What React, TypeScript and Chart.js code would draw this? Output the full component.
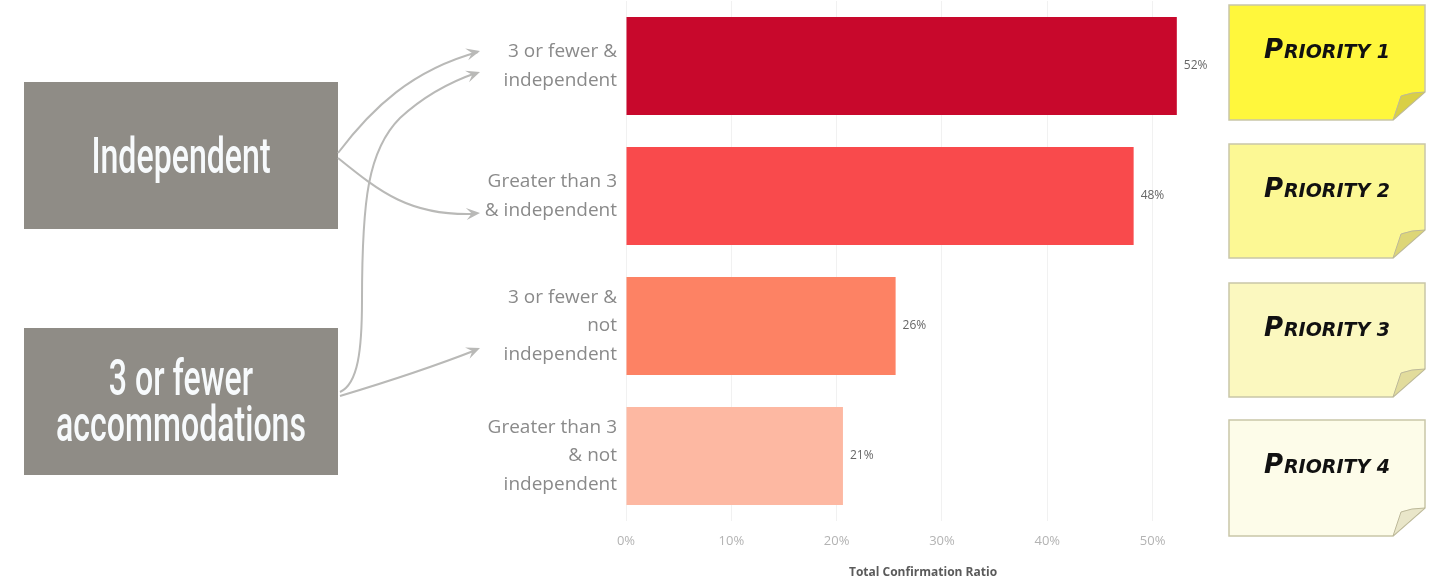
import React, { useEffect, useRef } from 'react';
import { Chart, registerables } from 'chart.js';

Chart.register(...registerables);

// ---------- data ----------
const categories: string[][] = [
  ['3 or fewer &', 'independent'],
  ['Greater than 3', '& independent'],
  ['3 or fewer &', 'not', 'independent'],
  ['Greater than 3', '& not', 'independent'],
];
const ratios: number[] = [52.3, 48.2, 25.6, 20.6];
const barColors: string[] = ['#c8082c', '#f94a4c', '#fd8264', '#fdb8a2'];
const xTickValues: number[] = [0, 10, 20, 30, 40, 50];
const axisTitle = 'Total Confirmation Ratio';
const groupBoxTexts: string[][] = [['Independent'], ['3 or fewer', 'accommodations']];
const priorityLabels: string[] = ['Priority 1', 'Priority 2', 'Priority 3', 'Priority 4'];
const noteFills: string[] = ['#fff73c', '#fcf894', '#fbf8bf', '#fdfce9'];
const flapFills: string[] = ['#d9cf45', '#ddd677', '#e2dc9c', '#e9e6c9'];

// ---------- decoration helpers ----------
function arrowHead(ctx: CanvasRenderingContext2D, fromX: number, fromY: number, x: number, y: number) {
  const a = Math.atan2(y - fromY, x - fromX);
  const len = 15;
  const spread = 0.42;
  ctx.beginPath();
  ctx.moveTo(x, y);
  ctx.lineTo(x - len * Math.cos(a - spread), y - len * Math.sin(a - spread));
  ctx.lineTo(x - len * 0.55 * Math.cos(a), y - len * 0.55 * Math.sin(a));
  ctx.lineTo(x - len * Math.cos(a + spread), y - len * Math.sin(a + spread));
  ctx.closePath();
  ctx.fill();
}

function drawNote(ctx: CanvasRenderingContext2D, x: number, y: number, w: number, h: number, fill: string, flap: string, label: string) {
  const r = x + w;
  const b = y + h;
  ctx.save();
  ctx.beginPath();
  ctx.moveTo(x, y);
  ctx.lineTo(r, y);
  ctx.lineTo(r, b - 28);
  ctx.lineTo(r - 32, b);
  ctx.lineTo(x, b);
  ctx.closePath();
  ctx.fillStyle = fill;
  ctx.fill();
  ctx.strokeStyle = '#c9c6a8';
  ctx.lineWidth = 1.5;
  ctx.stroke();
  // folded corner
  ctx.beginPath();
  ctx.moveTo(r, b - 28);
  ctx.quadraticCurveTo(r - 14, b - 28, r - 24, b - 24);
  ctx.quadraticCurveTo(r - 28, b - 12, r - 32, b);
  ctx.closePath();
  ctx.fillStyle = flap;
  ctx.fill();
  ctx.strokeStyle = '#bdb99a';
  ctx.lineWidth = 1;
  ctx.stroke();
  // text
  const first = label.charAt(0).toUpperCase();
  const rest = label.slice(1).toUpperCase();
  ctx.fillStyle = '#111';
  ctx.textBaseline = 'alphabetic';
  ctx.textAlign = 'left';
  const bigFont = 'italic bold 26px "DejaVu Sans"';
  const smallFont = 'italic bold 19px "DejaVu Sans"';
  ctx.font = bigFont;
  const w1 = ctx.measureText(first).width;
  ctx.font = smallFont;
  const w2 = ctx.measureText(rest).width;
  const total = w1 + 1 + w2;
  const sx = x + w / 2 - total / 2;
  const base = y + 53;
  ctx.font = bigFont;
  ctx.fillText(first, sx, base);
  ctx.font = smallFont;
  ctx.fillText(rest, sx + w1 + 1, base);
  ctx.restore();
}

const decorations = {
  id: 'decorations',
  beforeDraw(chart: any) {
    const ctx: CanvasRenderingContext2D = chart.ctx;
    ctx.save();
    ctx.fillStyle = '#ffffff';
    ctx.fillRect(0, 0, chart.width, chart.height);

    // grey group boxes
    const boxes = [
      { x: 24, y: 82, w: 314, h: 147, baselines: [173] },
      { x: 24, y: 328, w: 314, h: 147, baselines: [395, 441] },
    ];
    ctx.font = '500 50px Roboto';
    const scaleX = 250 / ctx.measureText('accommodations').width;
    boxes.forEach((bx, i) => {
      ctx.fillStyle = '#8f8c86';
      ctx.fillRect(bx.x, bx.y, bx.w, bx.h);
      ctx.fillStyle = '#f7fafc';
      ctx.textAlign = 'center';
      ctx.textBaseline = 'alphabetic';
      groupBoxTexts[i].forEach((t, j) => {
        ctx.save();
        ctx.translate(bx.x + bx.w / 2, bx.baselines[j]);
        ctx.scale(scaleX, 1);
        ctx.fillText(t, 0, 0);
        ctx.restore();
      });
    });

    // arrows
    ctx.strokeStyle = '#b9b9b7';
    ctx.fillStyle = '#b9b9b7';
    ctx.lineWidth = 2;
    // A: Independent -> 3 or fewer & independent
    ctx.beginPath();
    ctx.moveTo(338, 153);
    ctx.bezierCurveTo(372, 108, 412, 70, 478, 52);
    ctx.stroke();
    arrowHead(ctx, 440, 61, 480, 51);
    // B: Independent -> Greater than 3 & independent
    ctx.beginPath();
    ctx.moveTo(338, 158);
    ctx.bezierCurveTo(380, 192, 410, 216, 474, 214);
    ctx.stroke();
    arrowHead(ctx, 440, 216, 480, 213);
    // C: 3 or fewer -> 3 or fewer & independent
    ctx.beginPath();
    ctx.moveTo(340, 392);
    ctx.bezierCurveTo(358, 384, 362, 350, 362, 300);
    ctx.bezierCurveTo(362, 200, 368, 150, 400, 118);
    ctx.bezierCurveTo(425, 95, 450, 82, 476, 73);
    ctx.stroke();
    arrowHead(ctx, 445, 84, 480, 72);
    // D: 3 or fewer -> 3 or fewer & not independent
    ctx.beginPath();
    ctx.moveTo(340, 396);
    ctx.bezierCurveTo(390, 381, 430, 368, 476, 350);
    ctx.stroke();
    arrowHead(ctx, 445, 362, 480, 348);

    // sticky notes
    const notes = [
      { y: 5, h: 115 },
      { y: 144, h: 114 },
      { y: 283, h: 114 },
      { y: 420, h: 116 },
    ];
    notes.forEach((n, i) => drawNote(ctx, 1229, n.y, 196, n.h, noteFills[i], flapFills[i], priorityLabels[i]));
    ctx.restore();
  },
  afterDatasetsDraw(chart: any) {
    const ctx: CanvasRenderingContext2D = chart.ctx;
    const meta = chart.getDatasetMeta(0);
    ctx.save();
    ctx.font = '12px "Open Sans"';
    ctx.fillStyle = '#666';
    ctx.textAlign = 'left';
    ctx.textBaseline = 'middle';
    meta.data.forEach((el: any, i: number) => {
      ctx.fillText(`${Math.round(ratios[i])}%`, el.x + 7, el.y);
    });
    ctx.restore();
  },
};

export default function App() {
  const canvasRef = useRef<HTMLCanvasElement | null>(null);

  useEffect(() => {
    document.body.style.margin = '0';
    const canvas = canvasRef.current;
    if (!canvas) return;
    const chart = new Chart(canvas, {
      type: 'bar',
      data: {
        labels: categories,
        datasets: [
          {
            data: ratios,
            backgroundColor: barColors,
            borderWidth: 0,
            barPercentage: 0.754,
            categoryPercentage: 1,
          },
        ],
      },
      options: {
        indexAxis: 'y',
        responsive: false,
        animation: false,
        devicePixelRatio: 1,
        layout: { padding: { left: 0, right: 210, top: 1, bottom: 0 } },
        plugins: {
          legend: { display: false },
          tooltip: { enabled: false },
        },
        scales: {
          x: {
            min: 0,
            max: 56.4,
            afterBuildTicks: (scale: any) => {
              scale.ticks = xTickValues.map((v) => ({ value: v }));
            },
            afterFit: (scale: any) => {
              scale.height = 62;
              scale.paddingLeft = 0;
              scale.paddingRight = 0;
            },
            grid: { color: '#f1f1f1', drawTicks: false },
            border: { display: false },
            ticks: {
              padding: 12,
              color: '#b3b3b3',
              font: { family: '"Open Sans"', size: 13 },
              callback: (v: any) => `${v}%`,
            },
            title: {
              display: true,
              text: axisTitle,
              color: '#5a5a5a',
              font: { family: '"Open Sans"', size: 12, weight: 'bold' },
              padding: { top: 0, bottom: 3 },
            },
          },
          y: {
            afterFit: (scale: any) => {
              scale.width = 626;
              scale.paddingTop = 0;
              scale.paddingBottom = 0;
            },
            grid: { display: false, drawTicks: false },
            border: { display: false },
            ticks: {
              padding: 9,
              color: '#8a8a8a',
              font: { family: '"Open Sans"', size: 19, lineHeight: 1.5 },
            },
          },
        },
      },
      plugins: [decorations],
    });
    return () => chart.destroy();
  }, []);

  return (
    <div style={{ width: 1430, height: 583 }}>
      <canvas ref={canvasRef} width={1430} height={583} style={{ display: 'block' }} />
    </div>
  );
}
